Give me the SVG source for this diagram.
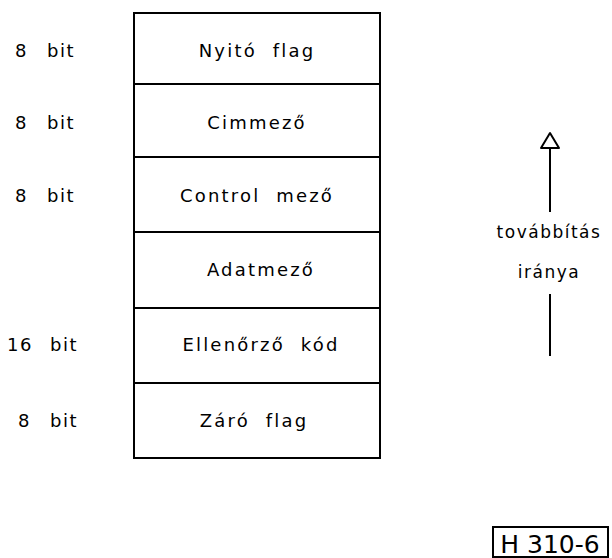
<svg xmlns="http://www.w3.org/2000/svg" width="612" height="558" viewBox="0 0 612 558">
  <style>
    .frame { fill: none; stroke: #000; stroke-width: 2; }
    .rule { stroke: #000; stroke-width: 2; }
    .field { font-family: "DejaVu Sans", "Liberation Sans", sans-serif; font-size: 18px; letter-spacing: 2.2px; text-anchor: middle; fill: #000; }
    .size { font-family: "DejaVu Sans", "Liberation Sans", sans-serif; font-size: 18px; letter-spacing: 1.5px; fill: #000; }
    .dir { font-family: "DejaVu Sans", "Liberation Sans", sans-serif; font-size: 17px; letter-spacing: 1.5px; text-anchor: middle; fill: #000; }
    .tag { font-family: "DejaVu Sans", "Liberation Sans", sans-serif; font-size: 25px; text-anchor: middle; fill: #000; }
  </style>

  <!-- frame structure -->
  <g id="frame">
    <rect class="frame" x="134" y="13" width="246" height="445"/>
  </g>

  <g id="nyito">
    <text class="field" x="257" y="57" xml:space="preserve">Nyitó  flag</text>
    <text class="size" y="57"><tspan x="15">8</tspan><tspan x="47">bit</tspan></text>
  </g>
  <g id="cim">
    <line class="rule" x1="134" y1="84" x2="380" y2="84"/>
    <text class="field" x="257" y="129">Cimmező</text>
    <text class="size" y="129"><tspan x="15">8</tspan><tspan x="47">bit</tspan></text>
  </g>
  <g id="control">
    <line class="rule" x1="134" y1="157" x2="380" y2="157"/>
    <text class="field" x="257" y="202" xml:space="preserve">Control  mező</text>
    <text class="size" y="202"><tspan x="15">8</tspan><tspan x="47">bit</tspan></text>
  </g>
  <g id="adat">
    <line class="rule" x1="134" y1="232" x2="380" y2="232"/>
    <text class="field" x="261" y="276">Adatmező</text>
  </g>
  <g id="ellenorzo">
    <line class="rule" x1="134" y1="308" x2="380" y2="308"/>
    <text class="field" x="261" y="351" xml:space="preserve">Ellenőrző  kód</text>
    <text class="size" y="351"><tspan x="7">16</tspan><tspan x="50">bit</tspan></text>
  </g>
  <g id="zaro">
    <line class="rule" x1="134" y1="383" x2="380" y2="383"/>
    <text class="field" x="254" y="427" xml:space="preserve">Záró  flag</text>
    <text class="size" y="427"><tspan x="18">8</tspan><tspan x="50">bit</tspan></text>
  </g>

  <!-- transmission direction -->
  <g id="connectors">
    <polygon points="550,133 541,148 559,148" fill="#fff" stroke="#000" stroke-width="2" stroke-linejoin="round"/>
    <line class="rule" x1="550" y1="148" x2="550" y2="212"/>
    <line class="rule" x1="550" y1="294" x2="550" y2="356"/>
  </g>
  <g id="direction">
    <text class="dir" x="549" y="238">továbbítás</text>
    <text class="dir" x="549" y="278">iránya</text>
  </g>

  <g id="figure-id">
    <rect class="frame" x="493" y="527" width="115" height="30"/>
    <text class="tag" x="550" y="553">H 310-6</text>
  </g>
</svg>
